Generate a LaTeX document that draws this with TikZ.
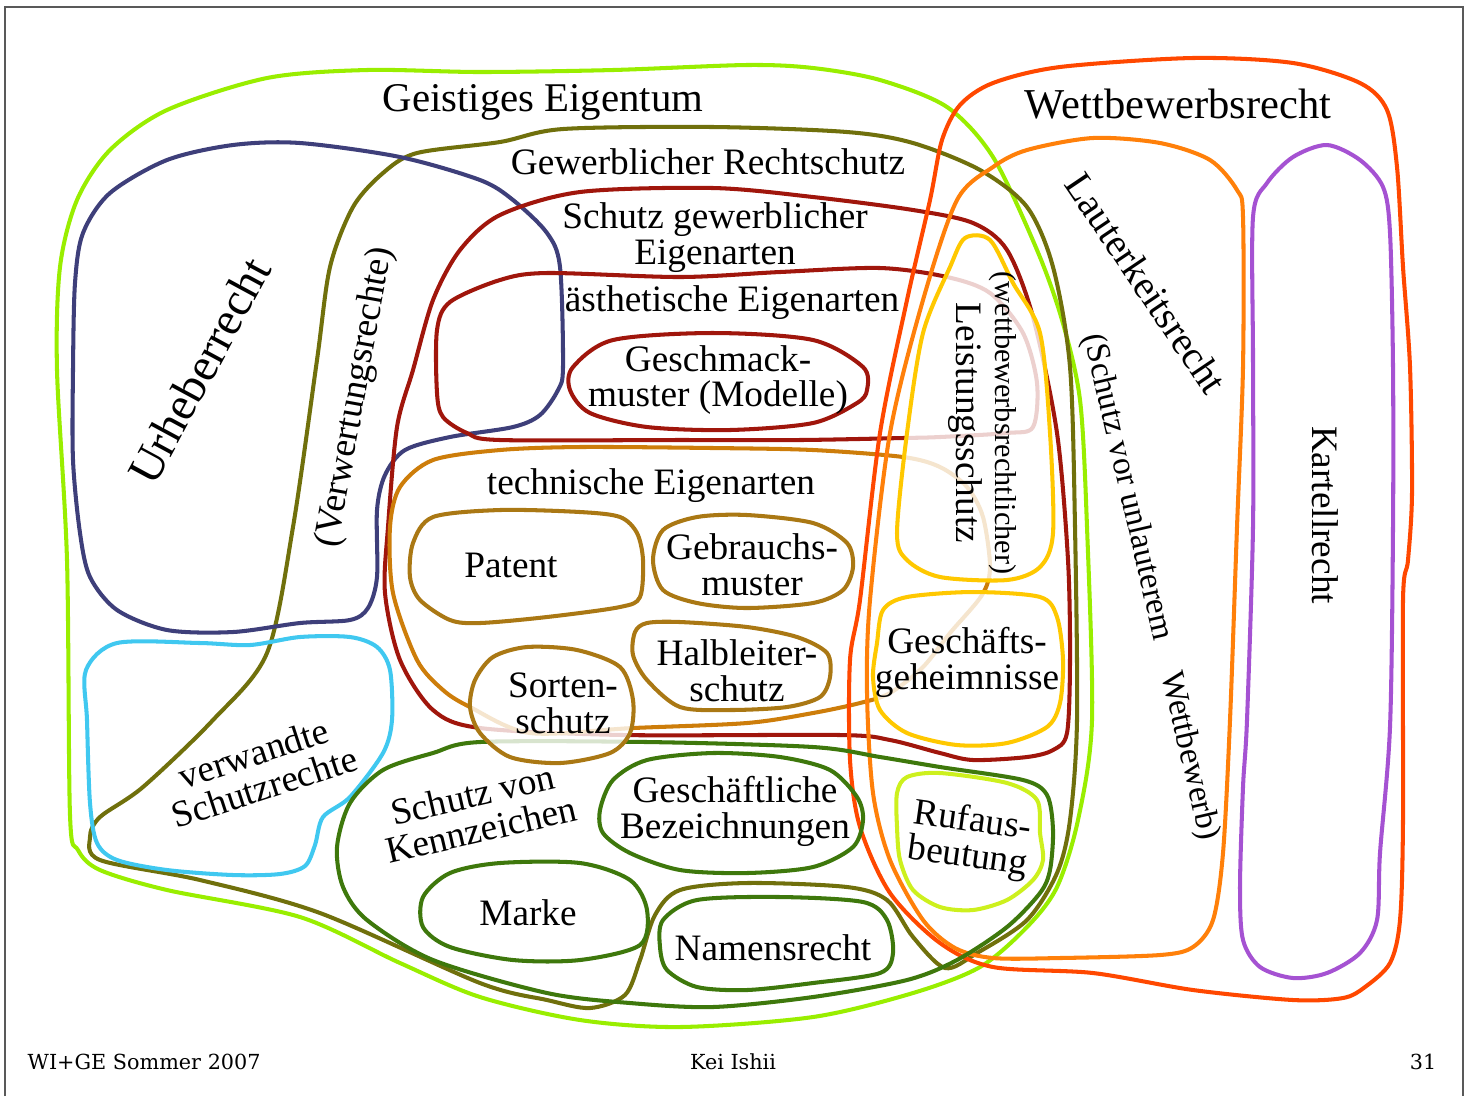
\documentclass[tikz,border=0pt]{standalone}
\usepackage{fontspec}
\setmainfont{Liberation Serif}
\newfontfamily\footfont{DejaVu Serif}
\usepackage{tikz}
\usepackage{xcolor}

\definecolor{cGeist}{RGB}{153,238,0}
\definecolor{cUrheb}{RGB}{62,63,122}
\definecolor{cGewerb}{RGB}{112,112,12}
\definecolor{cEigen}{RGB}{160,22,12}
\definecolor{cTechn}{RGB}{205,125,10}
\definecolor{cTechItem}{RGB}{170,120,20}
\definecolor{cWettb}{RGB}{255,72,0}
\definecolor{cLauter}{RGB}{255,128,10}
\definecolor{cKartell}{RGB}{165,82,210}
\definecolor{cLeist}{RGB}{255,200,0}
\definecolor{cVerwandt}{RGB}{64,200,240}
\definecolor{cKennz}{RGB}{62,120,12}
\definecolor{cRuf}{RGB}{205,240,30}

\begin{document}
\begin{tikzpicture}[x=0.01cm, y=-0.01cm,
    blob/.style={line width=1.15pt, line join=round},
    veil/.style={blob, draw=#1, fill=white, fill opacity=0.8},
    lbl/.style={font=\fontsize{10.6}{10.2}\selectfont, align=center, inner sep=0pt},
    big/.style={font=\fontsize{11.6}{12}\selectfont, inner sep=0pt},
    small/.style={font=\fontsize{8.6}{9}\selectfont, inner sep=0pt},
    foot/.style={font=\footfont\fontsize{5.9}{7}\selectfont, inner sep=0pt}
  ]
  \useasboundingbox (0,0) rectangle (1473,1096);
  %% Frame
  \draw[gray!70!black, line width=0.4pt] (5,1096) -- (5,7) -- (1463,7) -- (1463,1096);
  %% Geistiges Eigentum
  \draw[blob, cGeist] plot[smooth cycle] coordinates {(480,72) (613,70) (747,65) (813,68) (880,80) (947,107) (993,157) (1037,250) (1062,320) (1080,400) (1087,527) (1092,720) (1078,820) (1057,887) (1027,927) (980,967) (913,993) (813,1017) (680,1027) (580,1020) (480,997) (400,963) (300,917) (167,890) (100,870) (78,850) (70,815) (67,560) (57,370) (60,267) (77,200) (110,150) (167,110) (267,78) (367,70)};
  %% Gewerblicher Rechtschutz (with Verwertungsrechte)
  \draw[blob, cGewerb] plot[smooth cycle] coordinates {(417,153) (500,142) (563,129) (713,127) (847,132) (913,143) (980,170) (1027,207) (1053,267) (1070,367) (1075,527) (1077,720) (1070,820) (1057,873) (1027,920) (977,953) (945,968) (913,937) (887,900) (847,887) (747,883) (680,890) (655,915) (640,960) (625,995) (590,1008) (547,1000) (480,983) (320,913) (200,880) (100,860) (90,837) (100,817) (143,787) (213,720) (267,653) (293,527) (317,360) (330,267) (353,207) (383,173)};
  %% Urheberrecht
  \draw[blob, cUrheb] plot[smooth cycle] coordinates {(480,180) (513,200) (547,233) (560,267) (563,367) (558,390) (540,415) (513,427) (450,437) (405,450) (385,475) (377,510) (377,577) (368,608) (350,620) (300,623) (233,632) (167,630) (117,610) (90,577) (80,533) (73,460) (73,370) (75,283) (83,233) (110,193) (167,160) (233,145) (300,143) (400,157)};
  %% verwandte Schutzrechte
  \draw[blob, cVerwandt] plot[smooth cycle] coordinates {(117,643) (200,643) (250,645) (300,637) (350,637) (377,647) (390,670) (392,720) (383,753) (350,797) (323,817) (315,845) (305,866) (280,874) (233,875) (167,870) (117,860) (97,843) (90,803) (87,720) (86,670)};
  %% Schutz gewerblicher Eigenarten
  \draw[blob, cEigen] plot[smooth cycle] coordinates {(500,215) (580,192) (713,188) (813,197) (913,210) (973,223) (1007,250) (1033,317) (1057,433) (1068,560) (1070,660) (1067,733) (1053,750) (1027,757) (973,760) (940,753) (890,740) (840,735) (623,735) (480,728) (433,710) (400,660) (385,593) (388,527) (397,427) (413,370) (433,300) (460,250)};
  %% aesthetische Eigenarten
  \draw[blob, cEigen] plot[smooth cycle] coordinates {(500,280) (547,273) (680,277) (780,272) (880,268) (947,277) (990,293) (1023,333) (1037,383) (1033,427) (1007,433) (940,437) (903,438) (800,440) (680,440) (500,440) (467,433) (443,417) (437,393) (437,330) (450,302)};
  \draw[blob, cEigen] plot[smooth cycle] coordinates {(573,367) (613,340) (713,333) (813,340) (863,367) (867,390) (857,403) (813,423) (730,430) (647,427) (590,413) (570,390)};
  %% technische Eigenarten
  \draw[blob, cTechn] plot[smooth cycle] coordinates {(500,450) (580,447) (713,448) (813,450) (903,457) (940,467) (967,487) (983,517) (990,567) (982,595) (950,633) (923,667) (890,693) (860,703) (813,713) (747,723) (633,728) (530,733) (470,707) (443,690) (417,660) (393,593) (390,527) (400,487) (433,460)};
  \draw[blob, cTechItem] plot[smooth cycle] coordinates {(433,517) (500,510) (580,512) (620,517) (637,533) (643,560) (640,597) (620,607) (547,617) (480,623) (450,620) (420,600) (410,577) (413,543)};
  \draw[blob, cTechItem] plot[smooth cycle] coordinates {(663,530) (697,517) (747,515) (813,523) (847,543) (853,567) (843,590) (813,603) (747,608) (697,603) (663,590) (653,560)};
  \draw[blob, cTechItem] plot[smooth cycle] coordinates {(647,623) (680,622) (747,627) (797,637) (827,653) (830,677) (820,697) (787,707) (730,710) (680,707) (647,680) (633,655) (635,632)};
  %% Wettbewerbsrecht
  \draw[blob, cWettb] plot[smooth cycle] coordinates {(960,105) (993,83) (1060,67) (1193,58) (1293,63) (1360,83) (1387,110) (1397,167) (1403,267) (1410,367) (1412,493) (1408,560) (1403,600) (1403,820) (1400,920) (1390,963) (1365,987) (1343,998) (1293,1000) (1193,990) (1093,973) (993,967) (940,943) (890,893) (860,827) (850,760) (850,660) (860,600) (880,433) (907,300) (930,200) (942,140)};
  \draw[blob, cLauter] plot[smooth cycle] coordinates {(993,167) (1027,150) (1093,138) (1160,143) (1210,160) (1237,190) (1243,217) (1243,367) (1237,527) (1230,720) (1223,853) (1213,920) (1193,947) (1160,955) (1060,958) (993,958) (955,948) (923,920) (890,860) (873,793) (867,693) (870,600) (890,433) (923,300) (957,200)};
  \draw[blob, cKartell] plot[smooth cycle] coordinates {(1267,183) (1293,157) (1327,145) (1360,160) (1383,187) (1390,233) (1393,367) (1393,527) (1390,727) (1380,853) (1377,920) (1360,953) (1327,973) (1293,978) (1260,967) (1243,940) (1240,887) (1243,787) (1247,720) (1253,527) (1253,360) (1253,217)};
  %% Schutz von Kennzeichen
  \draw[blob, cKennz] plot[smooth cycle] coordinates {(480,742) (647,742) (813,747) (880,757) (940,767) (1023,780) (1047,795) (1053,830) (1050,870) (1040,893) (1007,927) (957,960) (907,980) (813,997) (713,1007) (630,1003) (547,993) (433,960) (367,920) (343,887) (337,847) (350,803) (383,770) (433,753)};
  \draw[blob, cKennz] plot[smooth cycle] coordinates {(613,780) (647,760) (713,753) (780,757) (830,770) (857,797) (863,820) (853,847) (813,867) (747,873) (680,870) (630,853) (603,833) (600,810)};
  \draw[blob, cKennz] plot[smooth cycle] coordinates {(500,863) (580,863) (630,880) (647,910) (640,945) (580,960) (513,960) (450,947) (423,927) (423,897) (450,873)};
  \draw[blob, cKennz] plot[smooth cycle] coordinates {(697,900) (780,897) (863,902) (887,920) (893,953) (880,973) (813,983) (747,990) (697,987) (667,970) (660,947) (663,920)};
  \draw[blob, cRuf] plot[smooth cycle] coordinates {(907,777) (940,773) (1007,783) (1037,800) (1040,833) (1043,860) (1033,880) (1007,900) (973,910) (940,907) (913,890) (900,860) (897,827) (897,793)};
  %% veiled blobs
  \draw[veil=cLeist] plot[smooth cycle] coordinates {(965,238) (990,240) (1013,283) (1040,333) (1050,433) (1053,533) (1040,567) (1007,580) (940,577) (907,560) (897,533) (907,433) (923,333) (950,267)};
  \draw[veil=cLeist] plot[smooth cycle] coordinates {(907,597) (973,592) (1040,597) (1057,617) (1063,660) (1060,703) (1047,727) (1007,743) (957,745) (907,733) (880,710) (873,677) (877,643) (883,610)};
  \draw[veil=cTechItem] plot[smooth cycle] coordinates {(493,657) (527,647) (577,650) (620,667) (633,700) (630,733) (610,753) (560,763) (510,757) (480,733) (470,707) (475,680)};
  %% Labels
  \node[big] (tGeist) at (543,102) {Geistiges Eigentum};
  \node[big, font=\fontsize{12.1}{13}\selectfont] (tWettb) at (1178,104) {Wettbewerbsrecht};
  \node[lbl] (tGewerb) at (708,162) {Gewerblicher Rechtschutz};
  \node[lbl] (tEigen) at (715,238) {Schutz gewerblicher\\Eigenarten};
  \node[lbl] (tAesth) at (732,303) {ästhetische Eigenarten};
  \node[lbl] (tGeschm) at (718,380) {Geschmack-\\muster (Modelle)};
  \node[lbl] (tTechn) at (651,486) {technische Eigenarten};
  \node[lbl] (tPatent) at (511,565) {Patent};
  \node[lbl] (tGebr) at (752,565) {Gebrauchs-\\muster};
  \node[lbl] (tHalbl) at (737,671) {Halbleiter-\\schutz};
  \node[lbl] (tSorten) at (563,703) {Sorten-\\schutz};
  \node[lbl] (tGeheim) at (967,662) {Geschäfts-\\geheimnisse};
  \node[lbl, font=\fontsize{13.4}{14}\selectfont, rotate=61.6] (tUrheb) at (199,371) {Urheberrecht};
  \node[lbl, rotate=79.7] (tVerw) at (356,397) {(Verwertungsrechte)};
  \node[lbl, rotate=18] (tVerwandt) at (259,770) {verwandte\\Schutzrechte};
  \node[lbl, rotate=13] (tKennz) at (477,812) {Schutz von\\Kennzeichen};
  \node[lbl] (tBez) at (735,811) {Geschäftliche\\Bezeichnungen};
  \node[lbl] (tMarke) at (528,913) {Marke};
  \node[lbl] (tName) at (773,948) {Namensrecht};
  \node[lbl, rotate=-8] (tRuf) at (970,840) {Rufaus-\\beutung};
  \node[lbl, rotate=-90] (tLeist) at (965,423) {Leistungsschutz};
  \node[small, rotate=-90] (tWettbL) at (1003,423) {(wettbewerbsrechtlicher)};
  \node[lbl, font=\fontsize{11.2}{12}\selectfont, rotate=-56] (tLauter) at (1146,283) {Lauterkeitsrecht};
  \node[lbl, font=\fontsize{9.5}{10}\selectfont, rotate=-77] (tUnl) at (1150,587) {(Schutz vor unlauterem\quad Wettbewerb)};
  \node[lbl, rotate=-90] (tKartell) at (1325,515) {Kartellrecht};
  %% Footer
  \node[foot, anchor=west] (fLeft) at (27,1062) {WI+GE Sommer 2007};
  \node[foot] (fMid) at (733,1062) {Kei Ishii};
  \node[foot, anchor=east] (fRight) at (1437,1062) {31};
\end{tikzpicture}
\end{document}
